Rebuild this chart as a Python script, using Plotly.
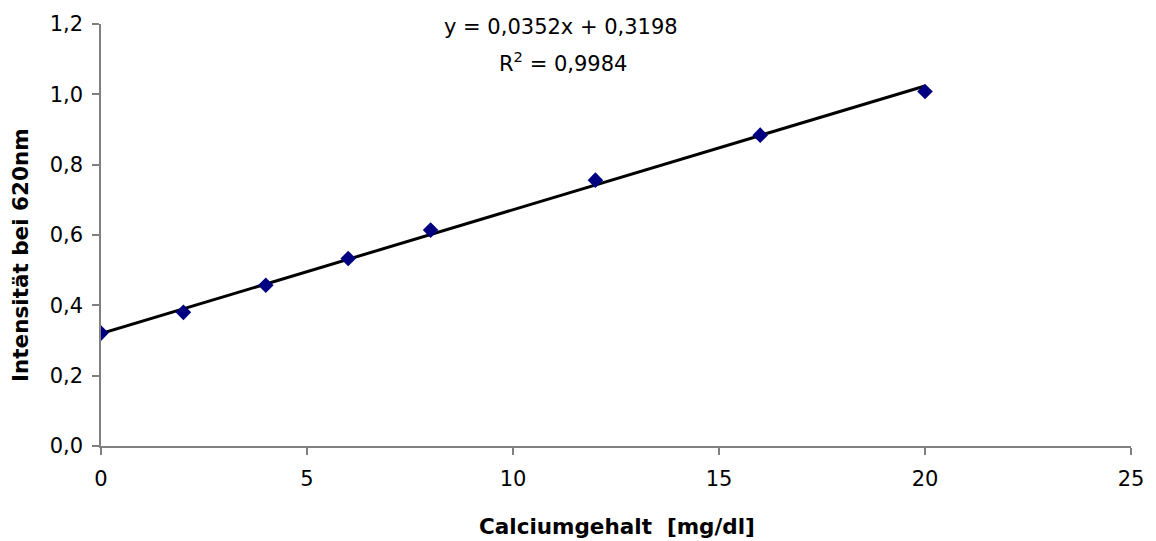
import plotly.graph_objects as go

calcium = [0, 2, 4, 6, 8, 12, 16, 20]
intensity = [0.321, 0.380, 0.457, 0.533, 0.614, 0.756, 0.884, 1.008]
slope = 0.0352
intercept = 0.3198
fit_x = [0, 20]
fit_y = [intercept + slope * v for v in fit_x]

font = "DejaVu Sans, Arial, sans-serif"

fig = go.Figure()
fig.add_trace(go.Scatter(x=fit_x, y=fit_y, mode="lines",
                         line=dict(color="black", width=3), showlegend=False))
fig.add_trace(go.Scatter(x=calcium, y=intensity, mode="markers",
                         marker=dict(symbol="diamond", color="#000080", size=12),
                         showlegend=False))

# trendline equation labels
fig.add_annotation(x=0.4466, y=(446 - 27) / 422, xref="paper", yref="paper",
                   text="y = 0,0352x + 0,3198", showarrow=False,
                   xanchor="center", yanchor="middle",
                   font=dict(family=font, size=21, color="black"))
fig.add_annotation(x=0.4485, y=(446 - 62) / 422, xref="paper", yref="paper",
                   text="R<sup>2</sup> = 0,9984", showarrow=False,
                   xanchor="center", yanchor="middle",
                   font=dict(family=font, size=21, color="black"))

# axis titles
fig.add_annotation(x=0.5005, y=(446 - 526) / 422, xref="paper", yref="paper",
                   text="<b>Calciumgehalt  [mg/dl]</b>", showarrow=False,
                   xanchor="center", yanchor="middle",
                   font=dict(family=font, size=21.5, color="black"))
fig.add_annotation(x=(20 - 101) / 1030, y=(446 - 255) / 422, xref="paper", yref="paper",
                   text="<b>Intensität bei 620nm</b>", showarrow=False, textangle=-90,
                   xanchor="center", yanchor="middle",
                   font=dict(family=font, size=21.5, color="black"))

fig.update_layout(
    width=1156, height=541,
    margin=dict(l=101, r=25, t=24, b=95),
    paper_bgcolor="white", plot_bgcolor="white",
    separators=",.",
    font=dict(family=font, size=21, color="black"),
    xaxis=dict(range=[0, 25], dtick=5, showgrid=False, zeroline=False,
               showline=True, linecolor="#808080", linewidth=1.5,
               ticks="outside", ticklen=7, tickcolor="#808080", tickwidth=1.5,
               ticklabelstandoff=6, tickfont=dict(size=21)),
    yaxis=dict(range=[0, 1.2], dtick=0.2, tickformat=".1f", showgrid=False,
               zeroline=False, showline=True, linecolor="#808080", linewidth=1.5,
               ticks="outside", ticklen=7, tickcolor="#808080", tickwidth=1.5,
               ticklabelstandoff=5, tickfont=dict(size=21)),
)

fig.write_html("out.html")
